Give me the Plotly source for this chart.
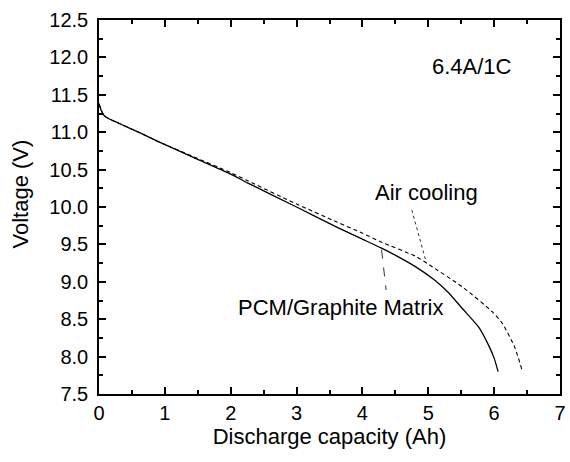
import plotly.graph_objects as go

# PCM/Graphite Matrix (solid)
pcm_x = [0.0, 0.03, 0.08, 0.15, 0.3, 0.6, 0.91, 1.44, 2.0, 2.26, 3.0, 3.61, 4.0, 4.29, 4.51, 4.81, 5.1, 5.3, 5.52, 5.76, 5.9, 6.0, 6.06]
pcm_y = [11.38, 11.3, 11.22, 11.18, 11.12, 11.0, 10.87, 10.66, 10.44, 10.32, 10.0, 9.73, 9.57, 9.45, 9.35, 9.2, 9.02, 8.86, 8.64, 8.4, 8.18, 7.98, 7.8]

# Air cooling (dashed)
air_x = [0.0, 0.03, 0.08, 0.15, 0.3, 0.6, 0.91, 1.44, 2.0, 2.26, 3.0, 3.61, 4.0, 4.29, 4.81, 5.01, 5.52, 5.97, 6.12, 6.31, 6.42]
air_y = [11.38, 11.3, 11.22, 11.18, 11.12, 11.0, 10.87, 10.67, 10.46, 10.35, 10.04, 9.8, 9.65, 9.53, 9.34, 9.23, 8.93, 8.6, 8.45, 8.13, 7.83]

x_ticks = [0, 1, 2, 3, 4, 5, 6, 7]
y_ticks = [7.5, 8.0, 8.5, 9.0, 9.5, 10.0, 10.5, 11.0, 11.5, 12.0, 12.5]

FONT = "Liberation Sans, Arial, sans-serif"

fig = go.Figure()
fig.add_trace(go.Scatter(x=pcm_x, y=pcm_y, mode="lines",
                         line=dict(color="black", width=1.3, shape="spline", smoothing=0.6),
                         showlegend=False))
fig.add_trace(go.Scatter(x=air_x, y=air_y, mode="lines",
                         line=dict(color="black", width=1.1, dash="4px,3px", shape="spline", smoothing=0.6),
                         showlegend=False))

# leader lines
fig.add_shape(type="line", x0=4.75, y0=9.96, x1=4.96, y1=9.29,
              line=dict(color="#333", width=1, dash="dot"))
fig.add_shape(type="line", x0=4.29, y0=9.43, x1=4.36, y1=8.89,
              line=dict(color="#333", width=1, dash="dash"))

fig.add_annotation(x=4.98, y=10.19, text="Air cooling", showarrow=False,
                   font=dict(family=FONT, size=22, color="black"))
fig.add_annotation(x=3.66, y=8.66, text="PCM/Graphite Matrix", showarrow=False,
                   font=dict(family=FONT, size=22, color="black"))
fig.add_annotation(x=5.67, y=11.88, text="6.4A/1C", showarrow=False,
                   font=dict(family=FONT, size=22, color="black"))

# y-axis title placed as annotation (slightly above centre, as in the original)
fig.add_annotation(xref="paper", yref="paper", x=-0.17, y=0.535, xanchor="center", yanchor="middle",
                   text="Voltage (V)", textangle=-90, showarrow=False,
                   font=dict(family=FONT, size=22, color="black"))

axis_common = dict(showline=True, linecolor="black", linewidth=1.5, mirror="allticks",
                   ticks="inside", ticklen=7, tickwidth=1.5, tickcolor="black",
                   showgrid=False, zeroline=False,
                   tickfont=dict(family=FONT, size=20, color="black"))

fig.update_xaxes(range=[0, 7], tickvals=x_ticks, ticktext=[str(v) for v in x_ticks],
                 minor=dict(ticks="inside", ticklen=4, tickwidth=1.5, tickcolor="black", dtick=0.5, showgrid=False),
                 title=dict(text="Discharge capacity (Ah)", font=dict(family=FONT, size=22, color="black"), standoff=5),
                 **axis_common)
fig.update_yaxes(range=[7.5, 12.5], tickvals=y_ticks, ticktext=[f"{v:.1f}" for v in y_ticks],
                 minor=dict(ticks="inside", ticklen=4, tickwidth=1.5, tickcolor="black", dtick=0.25, tick0=7.5, showgrid=False),
                 ticklabelstandoff=5,
                 **axis_common)

fig.update_layout(width=570, height=462, margin=dict(l=99, r=4, t=20, b=68),
                  plot_bgcolor="white", paper_bgcolor="white")

fig.write_html("out.html")
